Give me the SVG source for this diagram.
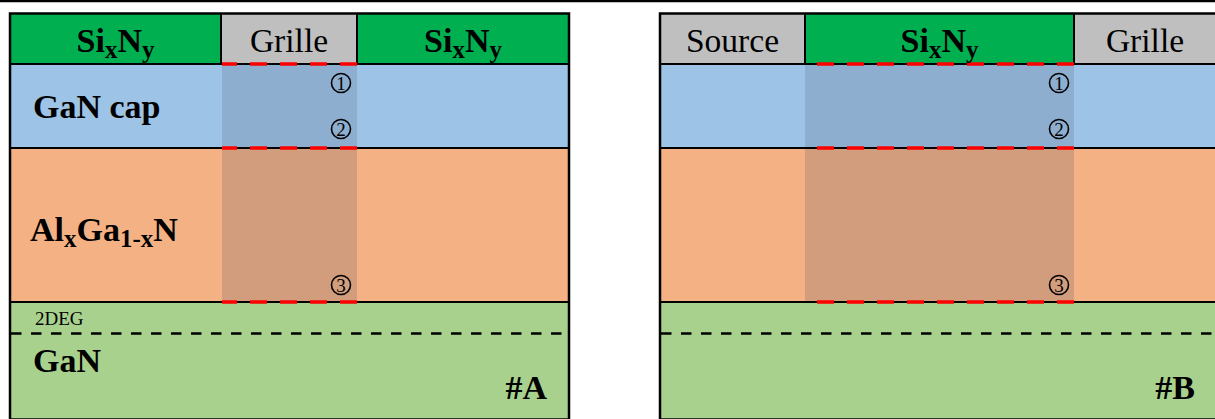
<svg xmlns="http://www.w3.org/2000/svg" width="1215" height="419" viewBox="0 0 1215 419">
<style>
.lbl{font-family:"Liberation Serif","Times New Roman",serif;fill:#000}
.bold{font-weight:bold;font-size:34px}
.reg{font-size:33.5px}
.sub{font-size:25px}
.deg2{font-size:19px}
.hdr{fill:#00B050}
.metal{fill:#BFBFBF}
.cap{fill:#9DC3E6}
.algan{fill:#F4B183}
.gan{fill:#A9D18E}
.capS{fill:#8EAED0}
.alganS{fill:#D19D7C}
.edge{stroke:#000;stroke-width:2;fill:none}
.frame{stroke:#000;stroke-width:2.5;fill:none}
.red{stroke:#FF0000;stroke-width:3.5;stroke-dasharray:17 13;fill:none}
.deg{stroke:#000;stroke-width:2.5;stroke-dasharray:10.5 9.5;fill:none}
.circ{fill:none;stroke:#000;stroke-width:1.6}
.num{font-family:"Liberation Serif","Times New Roman",serif;font-size:19px;text-anchor:middle;fill:#000}
</style>
<rect x="0" y="0" width="1215" height="419" fill="#FFFFFF"/>
<line x1="0" y1="1" x2="1215" y2="1" stroke="#000" stroke-width="2.5"/>

<g id="panelA">
  <g id="A-layers">
    <rect class="hdr" x="10" y="13.5" width="211" height="50.5"/>
    <rect class="metal" x="221" y="13.5" width="136" height="50.5"/>
    <rect class="hdr" x="357" y="13.5" width="212" height="50.5"/>
    <rect class="cap" x="10" y="64" width="559" height="84"/>
    <rect class="algan" x="10" y="148" width="559" height="154"/>
    <rect class="gan" x="10" y="302" width="559" height="118"/>
    <rect class="capS" x="222" y="64" width="135" height="84"/>
    <rect class="alganS" x="222" y="148" width="135" height="154"/>
  </g>
  <g id="A-edges">
    <path class="edge" d="M10,64 H569 M10,148 H569 M10,302 H569 M221,13.5 V64 M357,13.5 V64"/>
    <rect class="frame" x="10" y="13.5" width="559" height="406"/>
    <path class="deg" d="M11,333.5 H569"/>
    <path class="red" d="M357,64 H222 M357,148 H222 M357,302 H222"/>
  </g>
  <g id="A-text">
    <text class="lbl bold" x="115.5" y="52" text-anchor="middle">Si<tspan class="sub" dy="6">x</tspan><tspan dy="-6">N</tspan><tspan class="sub" dy="6">y</tspan></text>
    <text class="lbl reg" x="289" y="52" text-anchor="middle">Grille</text>
    <text class="lbl bold" x="463" y="52" text-anchor="middle">Si<tspan class="sub" dy="6">x</tspan><tspan dy="-6">N</tspan><tspan class="sub" dy="6">y</tspan></text>
    <text class="lbl bold" x="33" y="118">GaN cap</text>
    <text class="lbl bold" x="30" y="241">Al<tspan class="sub" dy="6">x</tspan><tspan dy="-6">Ga</tspan><tspan class="sub" dy="6">1-x</tspan><tspan dy="-6">N</tspan></text>
    <text class="lbl deg2" x="35" y="325">2DEG</text>
    <text class="lbl bold" x="33" y="372">GaN</text>
    <text class="lbl bold" x="547" y="399" text-anchor="end">#A</text>
  </g>
  <g id="A-marks">
    <circle class="circ" cx="341" cy="83" r="9.5"/><text class="num" x="341" y="89.5">1</text>
    <circle class="circ" cx="341" cy="129" r="9.5"/><text class="num" x="341" y="135.5">2</text>
    <circle class="circ" cx="341" cy="285" r="9.5"/><text class="num" x="341" y="291.5">3</text>
  </g>
</g>

<g id="panelB">
  <g id="B-layers">
    <rect class="metal" x="660" y="13.5" width="145" height="50.5"/>
    <rect class="hdr" x="805" y="13.5" width="269" height="50.5"/>
    <rect class="metal" x="1074" y="13.5" width="145" height="50.5"/>
    <rect class="cap" x="660" y="64" width="559" height="84"/>
    <rect class="algan" x="660" y="148" width="559" height="154"/>
    <rect class="gan" x="660" y="302" width="559" height="118"/>
    <rect class="capS" x="805" y="64" width="269" height="84"/>
    <rect class="alganS" x="805" y="148" width="269" height="154"/>
  </g>
  <g id="B-edges">
    <path class="edge" d="M660,64 H1219 M660,148 H1219 M660,302 H1219 M805,13.5 V64 M1074,13.5 V64"/>
    <rect class="frame" x="660" y="13.5" width="559" height="406"/>
    <path class="deg" d="M661,333.5 H1219"/>
    <path class="red" d="M1074,64 H805 M1074,148 H805 M1074,302 H805"/>
  </g>
  <g id="B-text">
    <text class="lbl reg" x="732.5" y="52" text-anchor="middle">Source</text>
    <text class="lbl bold" x="939.5" y="52" text-anchor="middle">Si<tspan class="sub" dy="6">x</tspan><tspan dy="-6">N</tspan><tspan class="sub" dy="6">y</tspan></text>
    <text class="lbl reg" x="1145" y="52" text-anchor="middle">Grille</text>
    <text class="lbl bold" x="1195" y="399" text-anchor="end">#B</text>
  </g>
  <g id="B-marks">
    <circle class="circ" cx="1059" cy="83" r="9.5"/><text class="num" x="1059" y="89.5">1</text>
    <circle class="circ" cx="1059" cy="129" r="9.5"/><text class="num" x="1059" y="135.5">2</text>
    <circle class="circ" cx="1059" cy="285" r="9.5"/><text class="num" x="1059" y="291.5">3</text>
  </g>
</g>
</svg>
